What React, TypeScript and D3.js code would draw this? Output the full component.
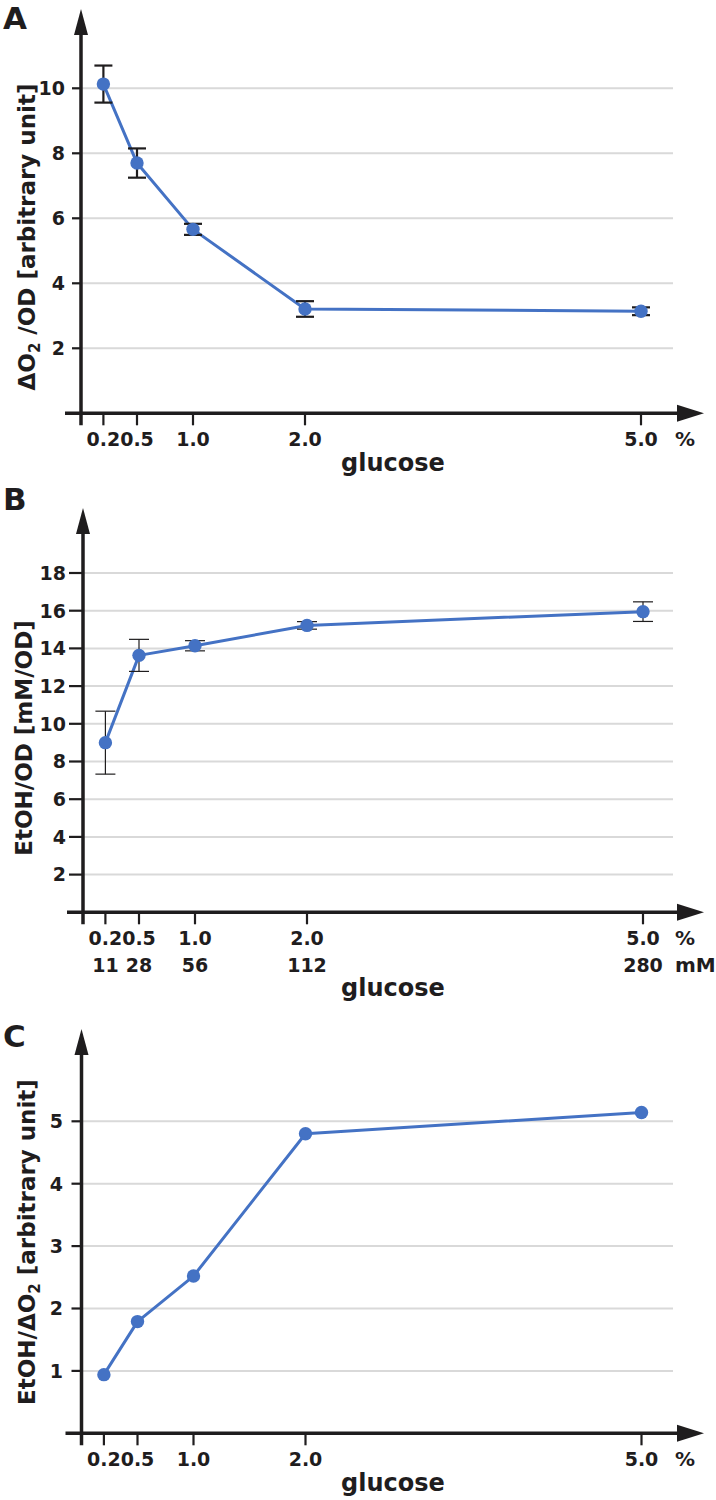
import React from 'react';
import * as d3 from 'd3';

// glucose concentrations shared by the three panels
const glucosePct = [0.2, 0.5, 1.0, 2.0, 5.0];
const glucosePctLabels = ['0.2', '0.5', '1.0', '2.0', '5.0'];
const glucoseMMLabels = ['11', '28', '56', '112', '280'];

// A: oxygen consumption per OD
const o2PerOd = [10.13, 7.7, 5.66, 3.21, 3.14];
const o2PerOdErr = [0.57, 0.45, 0.17, 0.24, 0.12];
const o2Ticks = [2, 4, 6, 8, 10];

// B: ethanol per OD
const etohPerOd = [9.0, 13.63, 14.14, 15.22, 15.95];
const etohPerOdErr = [1.67, 0.85, 0.27, 0.2, 0.52];
const etohTicks = [2, 4, 6, 8, 10, 12, 14, 16, 18];

// C: ethanol / oxygen ratio
const etohPerO2 = [0.94, 1.79, 2.52, 4.8, 5.14];
const ratioTicks = [1, 2, 3, 4, 5];

const FONT = '"DejaVu Sans", sans-serif';
const BLUE = '#4472c4';
const INK = '#1f1d1e';
const GRID = '#d9d9d9';

interface PanelProps {
  top: number;
  letter: string;
  letterY: number;
  axisX: number;
  yTop: number;
  yHeight: number;
  ticks: number[];
  tickLen: number;
  tickLabelX: number;
  values: number[];
  errors?: number[];
  errWidth?: number;
  capHalf?: number;
  yLabel: React.ReactNode;
  yLabelX: number;
  yLabelY: number;
  mM?: boolean;
}

function Panel(p: PanelProps) {
  const axisY = 413.3;
  const gridEnd = 673;
  const arrowTip = 704;

  const x = d3.scaleLinear().domain([0, 5]).range([p.axisX, p.axisX + 5 * 112]);
  const y = d3.scaleLinear().domain([0, p.yTop]).range([axisY, axisY - p.yHeight]);

  const line = d3
    .line<number>()
    .x((_, i) => x(glucosePct[i]))
    .y(d => y(d));

  return (
    <g transform={`translate(0,${p.top})`}>
      <text x={3} y={p.letterY} fontFamily={FONT} fontWeight="bold" fontSize={31} fill={INK}>
        {p.letter}
      </text>

      {/* grid */}
      {p.ticks.map(t => (
        <line key={'g' + t} x1={p.axisX} x2={gridEnd} y1={y(t)} y2={y(t)} stroke={GRID} strokeWidth={2} />
      ))}

      {/* y axis */}
      <line x1={p.axisX} x2={p.axisX} y1={axisY + 12} y2={30} stroke={INK} strokeWidth={3.5} />
      <polygon points={`${p.axisX},9 ${p.axisX - 7},35 ${p.axisX + 7},35`} fill={INK} />
      {p.ticks.map(t => (
        <g key={'t' + t}>
          <line x1={p.axisX - p.tickLen} x2={p.axisX} y1={y(t)} y2={y(t)} stroke={INK} strokeWidth={2.2} />
          <text
            x={p.tickLabelX}
            y={y(t)}
            dy="0.36em"
            textAnchor="end"
            fontFamily={FONT}
            fontWeight="bold"
            fontSize={19}
            fill={INK}
          >
            {t}
          </text>
        </g>
      ))}
      <text
        transform={`translate(${p.yLabelX},${p.yLabelY}) rotate(-90)`}
        textAnchor="middle"
        fontFamily={FONT}
        fontWeight="bold"
        fontSize={23}
        fill={INK}
      >
        {p.yLabel}
      </text>

      {/* x axis */}
      <line x1={p.axisX - 16} x2={arrowTip - 22} y1={axisY} y2={axisY} stroke={INK} strokeWidth={3.5} />
      <polygon
        points={`${arrowTip},${axisY} ${arrowTip - 27},${axisY - 8.5} ${arrowTip - 27},${axisY + 8.5}`}
        fill={INK}
      />
      {glucosePct.map((g, i) => (
        <g key={'x' + g}>
          <line x1={x(g)} x2={x(g)} y1={axisY} y2={axisY + 12} stroke={INK} strokeWidth={2.2} />
          <text x={x(g)} y={axisY + 33} textAnchor="middle" fontFamily={FONT} fontWeight="bold" fontSize={19} fill={INK}>
            {glucosePctLabels[i]}
          </text>
          {p.mM && (
            <text x={x(g)} y={axisY + 60} textAnchor="middle" fontFamily={FONT} fontWeight="bold" fontSize={19} fill={INK}>
              {glucoseMMLabels[i]}
            </text>
          )}
        </g>
      ))}
      <text x={675} y={axisY + 33} fontFamily={FONT} fontWeight="bold" fontSize={20} fill={INK}>%</text>
      {p.mM && (
        <text x={675} y={axisY + 60} fontFamily={FONT} fontWeight="bold" fontSize={20} fill={INK}>mM</text>
      )}
      <text
        x={393}
        y={axisY + (p.mM ? 84 : 58)}
        textAnchor="middle"
        fontFamily={FONT}
        fontWeight="bold"
        fontSize={24}
        fill={INK}
      >
        glucose
      </text>

      {/* series */}
      <path d={line(p.values) || ''} fill="none" stroke={BLUE} strokeWidth={3} strokeLinejoin="round" />
      {p.errors &&
        p.values.map((v, i) => {
          const e = p.errors![i];
          const cx = x(glucosePct[i]);
          const h = p.capHalf || 9;
          return (
            <g key={'e' + i} stroke={INK} strokeWidth={p.errWidth || 2}>
              <line x1={cx} x2={cx} y1={y(v + e)} y2={y(v - e)} />
              <line x1={cx - h} x2={cx + h} y1={y(v + e)} y2={y(v + e)} />
              <line x1={cx - h} x2={cx + h} y1={y(v - e)} y2={y(v - e)} />
            </g>
          );
        })}
      {p.values.map((v, i) => (
        <circle key={'c' + i} cx={x(glucosePct[i])} cy={y(v)} r={6.7} fill={BLUE} />
      ))}
    </g>
  );
}

export default function App() {
  return (
    <svg
      width={716}
      height={1500}
      style={{ position: 'absolute', left: 0, top: 0, background: '#fff' }}
    >
      <Panel
        top={0}
        letter="A"
        letterY={29}
        axisX={81}
        yTop={10}
        yHeight={325}
        ticks={o2Ticks}
        tickLen={9}
        tickLabelX={65}
        values={o2PerOd}
        errors={o2PerOdErr}
        errWidth={2.2}
        capHalf={9}
        yLabelX={35}
        yLabelY={237}
        yLabel={
          <>
            ΔO<tspan fontSize={15} dy={5}>2</tspan>
            <tspan dy={-5}> /OD [arbitrary unit]</tspan>
          </>
        }
      />
      <Panel
        top={499}
        letter="B"
        letterY={11}
        axisX={83}
        yTop={18}
        yHeight={339.3}
        ticks={etohTicks}
        tickLen={14}
        tickLabelX={66}
        values={etohPerOd}
        errors={etohPerOdErr}
        errWidth={1.2}
        capHalf={10}
        yLabelX={32}
        yLabelY={239}
        yLabel="EtOH/OD [mM/OD]"
        mM
      />
      <Panel
        top={1020}
        letter="C"
        letterY={27}
        axisX={81.5}
        yTop={5}
        yHeight={312}
        ticks={ratioTicks}
        tickLen={10}
        tickLabelX={63}
        values={etohPerO2}
        yLabelX={35}
        yLabelY={222}
        yLabel={
          <>
            EtOH/ΔO<tspan fontSize={15} dy={5}>2</tspan>
            <tspan dy={-5}> [arbitrary unit]</tspan>
          </>
        }
      />
    </svg>
  );
}
